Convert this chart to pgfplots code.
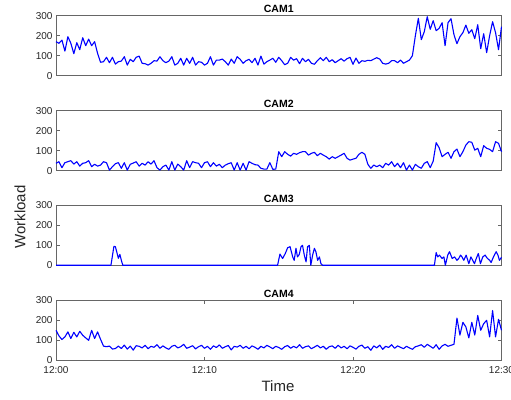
\documentclass[border=0pt]{standalone}
\usepackage{pgfplots}
\usepackage{pgfplotstable}
\usepackage{fontspec}
\setmainfont{Liberation Sans}
\pgfplotsset{compat=1.18}

\pgfplotstableread{
t c1 c2 c4
0 170 37 150
0.2 162 45 122
0.4 178 15 104
0.6 123 40 117
0.8 195 45 142
1.0 162 50 109
1.2 110 33 140
1.4 165 45 117
1.6 130 23 145
1.8 190 37 125
2.0 150 40 112
2.2 183 50 100
2.4 150 20 150
2.6 170 32 109
2.8 112 23 142
3.0 67 28 105
3.2 70 45 71
3.4 92 40 68
3.6 65 3 71
3.8 92 20 56
4.0 58 35 59
4.2 70 40 71
4.4 73 12 59
4.6 95 40 76
4.8 53 3 56
5.0 82 32 71
5.2 70 38 51
5.4 92 45 73
5.6 98 23 70
5.8 62 37 62
6.0 60 28 75
6.2 53 45 58
6.4 62 33 70
6.6 75 50 65
6.8 73 15 78
7.0 95 3 60
7.2 75 20 72
7.4 65 28 62
7.6 73 3 55
7.8 95 45 70
8.0 53 3 75
8.2 62 33 62
8.4 87 20 68
8.6 53 3 80
8.8 87 50 60
9.0 62 15 66
9.2 92 45 73
9.4 53 40 57
9.6 70 37 68
9.8 67 15 75
10.0 53 40 60
10.2 62 45 70
10.4 95 20 55
10.6 53 40 72
10.8 78 23 64
11.0 78 32 77
11.2 83 15 60
11.4 70 28 68
11.6 53 35 74
11.8 83 40 52
12.0 62 3 70
12.2 95 40 66
12.4 82 3 75
12.6 62 37 60
12.8 75 3 70
13.0 82 45 58
13.2 65 37 72
13.4 87 30 65
13.6 53 28 55
13.8 98 12 70
14.0 58 8 62
14.2 70 8 75
14.4 78 40 67
14.6 87 7 58
14.8 67 8 70
15.0 92 95 64
15.2 75 70 55
15.4 55 95 68
15.6 62 82 74
15.8 92 73 60
16.0 78 87 70
16.2 85 82 62
16.4 60 90 78
16.6 87 95 60
16.8 70 95 68
17.0 82 78 72
17.2 62 87 58
17.4 57 92 66
17.6 75 75 75
17.8 90 87 62
18.0 75 78 70
18.2 92 70 55
18.4 70 58 68
18.6 80 70 72
18.8 65 62 60
19.0 75 70 75
19.2 85 78 62
19.4 73 87 70
19.6 85 62 58
19.8 92 53 72
20.0 57 58 65
20.2 88 62 56
20.4 62 82 70
20.6 75 92 76
20.8 72 82 60
21.0 77 32 68
21.2 75 12 50
21.4 83 28 72
21.6 90 20 62
21.8 83 28 76
22.0 62 15 55
22.2 58 37 70
22.4 62 28 64
22.6 75 45 78
22.8 75 20 60
23.0 65 37 72
23.2 78 15 65
23.4 62 40 58
23.6 70 3 70
23.8 78 28 62
24.0 100 3 55
24.2 200 32 68
24.4 287 20 72
24.6 180 12 78
24.8 220 37 65
25.0 295 45 80
25.2 232 15 70
25.4 275 48 60
25.6 225 140 78
25.8 237 115 55
26.0 265 70 72
26.2 150 82 80
26.4 265 92 70
26.6 285 62 75
26.8 205 95 80
27.0 160 108 211
27.2 195 70 126
27.4 215 95 190
27.6 253 128 167
27.8 212 145 112
28.0 230 142 190
28.2 185 103 126
28.4 255 112 224
28.6 135 70 150
28.8 210 125 183
29.0 115 112 200
29.2 200 107 117
29.4 270 95 249
29.6 215 145 117
29.8 130 137 205
30.0 245 95 150
}\camdata

\pgfplotsset{
  camaxis/.style={
    scale only axis, width=445.5pt, height=60pt,
    anchor=south west,
    xmin=0, xmax=30, ymin=0, ymax=300,
    ytick={0,100,200,300},
    tick align=inside, major tick length=3.5pt,
    axis line style={draw=black!60, line width=0.6pt},
    every tick/.style={draw=black!60, line width=0.6pt},
    ticklabel style={font=\fontsize{10}{12}\selectfont, text=black!85},
    /pgf/number format/assume math mode=true,
    clip=false,
    no markers,
    title style={font=\bfseries\fontsize{10.5}{12}\selectfont, yshift=-6.5pt},
    every axis plot post/.append style={color=blue, line width=1.1pt, mark=none, line join=round},
  }
}

\begin{document}
\begin{tikzpicture}
\useasboundingbox (0,0) rectangle (511pt,399pt);

\begin{axis}[camaxis, at={(56pt,323.3pt)}, title={CAM1}, xtick=\empty]
\addplot table[x=t, y=c1] {\camdata};
\end{axis}

\begin{axis}[camaxis, at={(56pt,228.3pt)}, title={CAM2}, xtick=\empty]
\addplot table[x=t, y=c2] {\camdata};
\end{axis}

\begin{axis}[camaxis, at={(56pt,133.7pt)}, title={CAM3}, xtick=\empty]
\addplot coordinates {(0,0)(3.7,0)(3.9,95)(4.0,93)(4.2,35)(4.3,55)(4.4,25)(4.5,0)(14.92,0)(15.08,56)(15.26,34)(15.44,59)(15.6,88)(15.76,93)(15.94,42)(16.04,25)(16.16,85)(16.26,42)(16.38,54)(16.5,93)(16.6,100)(16.72,51)(16.84,17)(16.94,93)(17.06,100)(17.16,0)(17.28,51)(17.4,85)(17.5,68)(17.62,25)(17.74,42)(17.84,8)(17.96,0)(25.48,0)(25.6,64)(25.7,42)(25.82,51)(26.0,34)(26.12,42)(26.22,0)(26.38,51)(26.5,68)(26.68,34)(26.84,42)(27.0,25)(27.12,34)(27.24,51)(27.34,42)(27.46,25)(27.62,51)(27.8,8)(27.94,42)(28.06,25)(28.18,8)(28.3,34)(28.44,59)(28.58,8)(28.74,42)(28.9,51)(29.02,37)(29.2,25)(29.3,14)(29.46,42)(29.64,68)(29.76,51)(29.86,25)(30,40)};
\end{axis}

\begin{axis}[camaxis, at={(56pt,38.7pt)}, title={CAM4},
  xtick={0,10,20,30}, xticklabels={12:00,12:10,12:20,12:30},
  xticklabel style={yshift=-3pt}]
\addplot table[x=t, y=c4] {\camdata};
\end{axis}

\node[rotate=90, font=\fontsize{15}{18}\selectfont, text=black!85] at (20pt,182pt) {Workload};
\node[font=\fontsize{15}{18}\selectfont, text=black!85] at (278pt,13pt) {Time};
\end{tikzpicture}
\end{document}
